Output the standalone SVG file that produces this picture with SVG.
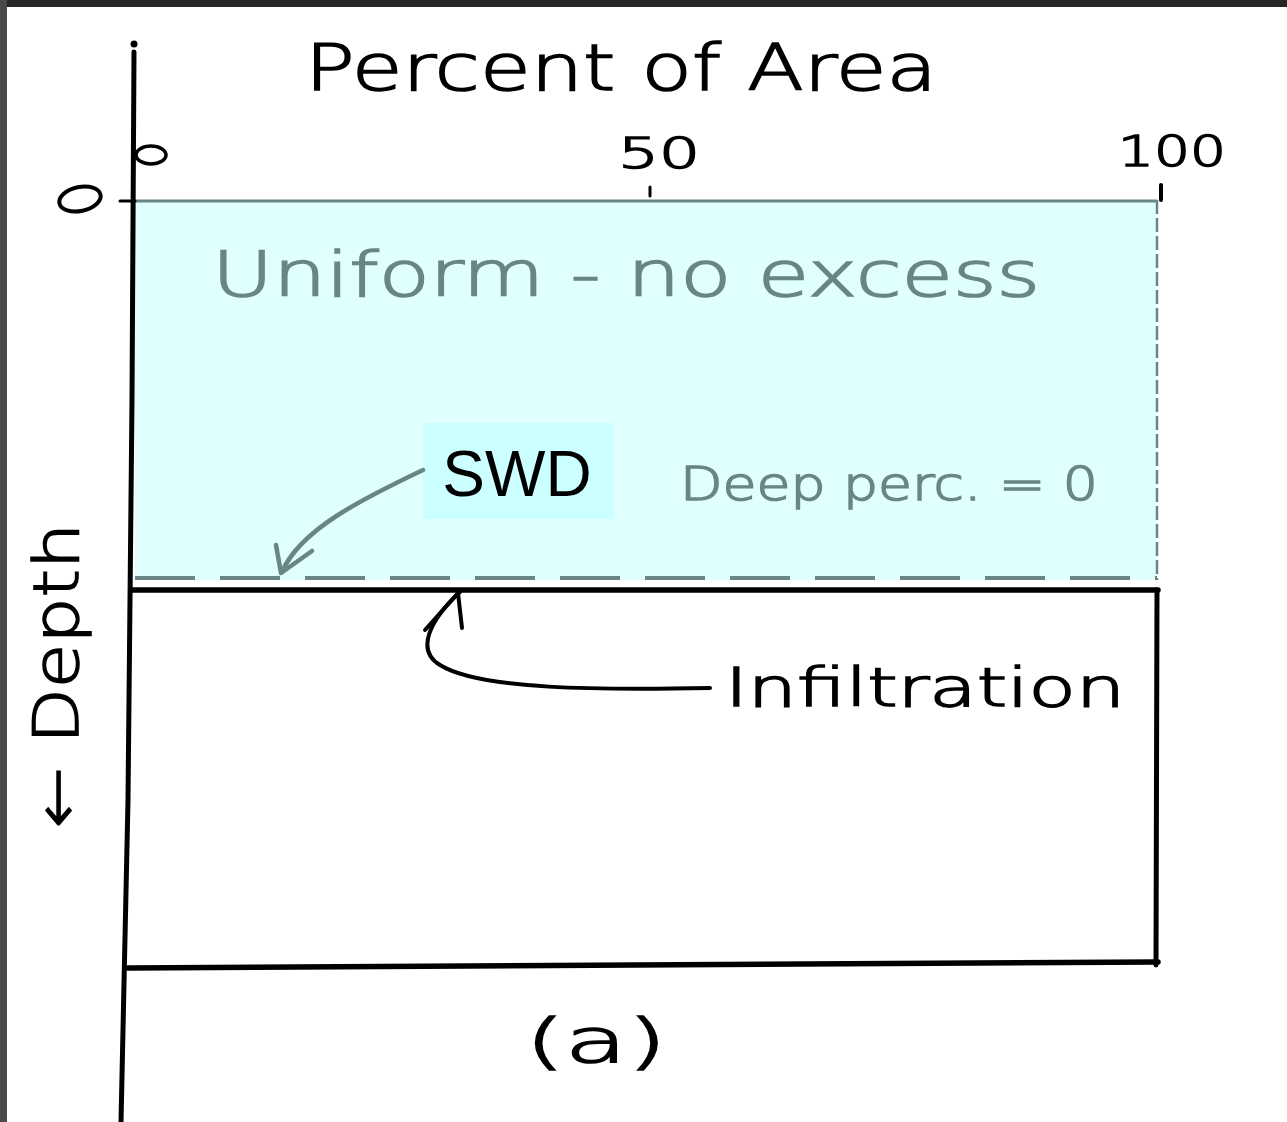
<svg xmlns="http://www.w3.org/2000/svg" width="1287" height="1122" viewBox="0 0 1287 1122">
<defs>
<style>
.blk{fill:#000;stroke:#000;stroke-width:1.6;font-family:"DejaVu Sans","Liberation Sans",sans-serif}
.gry{fill:#6a8585;stroke:#6a8585;stroke-width:1.6;font-family:"DejaVu Sans","Liberation Sans",sans-serif}
.ink{fill:none;stroke:#000;stroke-linecap:round;stroke-linejoin:round}
.gink{fill:none;stroke:#6a8585;stroke-linecap:round;stroke-linejoin:round}
</style>
</defs>
<rect x="0" y="0" width="1287" height="1122" fill="#ffffff"/>
<rect x="0" y="0" width="1287" height="7" fill="#262626"/>
<rect x="0" y="0" width="7" height="1122" fill="#4a4a4a"/>

<g id="area">
<rect x="135" y="200" width="1022" height="380" fill="#e0ffff"/>
<line x1="135" y1="201" x2="1157" y2="201" stroke="#6a8585" stroke-width="3"/>
<line x1="1157" y1="200" x2="1157" y2="580" stroke="#6a8585" stroke-width="2.5" stroke-dasharray="14 4"/>
<line x1="135" y1="578" x2="1157" y2="578" stroke="#6a8585" stroke-width="4" stroke-dasharray="60 25"/>
</g>

<g id="axes">
<circle cx="134" cy="44" r="3.5" fill="#000"/>
<path class="ink" d="M134 52 L132 400 L128 800 L121 1122" stroke-width="5"/>
<line class="ink" x1="120" y1="201" x2="135" y2="201" stroke-width="3"/>
<path class="ink" d="M131 590 L1158 590" stroke-width="5.5"/>
<path class="ink" d="M1157 590 L1156 965" stroke-width="5"/>
<path class="ink" d="M128 968 L1158 962" stroke-width="5.5"/>
<line class="ink" x1="1161" y1="185" x2="1161" y2="200" stroke-width="4"/>
<line class="ink" x1="650" y1="187" x2="650" y2="196" stroke-width="3"/>
<ellipse cx="151" cy="155" rx="15" ry="9" class="ink" stroke-width="3.5"/>
<ellipse cx="80" cy="199" rx="21" ry="12" transform="rotate(-12 80 199)" class="ink" stroke-width="4"/>
</g>

<g id="labels">
<text class="blk" x="305" y="90" font-size="64" textLength="632" lengthAdjust="spacingAndGlyphs" font-weight="200">Percent of Area</text>
<text class="blk" x="618" y="168" font-size="42" textLength="82" lengthAdjust="spacingAndGlyphs" font-weight="200">50</text>
<text class="blk" x="1118" y="166" font-size="42" textLength="108" lengthAdjust="spacingAndGlyphs" font-weight="200">100</text>
<text class="gry" x="212" y="296" font-size="62" textLength="828" lengthAdjust="spacingAndGlyphs" font-weight="200">Uniform - no excess</text>
<text class="gry" x="680" y="500" font-size="46" textLength="418" lengthAdjust="spacingAndGlyphs" font-weight="200">Deep perc. = 0</text>
<text class="blk" x="725" y="706" font-size="54" textLength="400" lengthAdjust="spacingAndGlyphs" font-weight="200">Infiltration</text>
<text class="blk" transform="translate(78 828) rotate(-90)" x="0" y="0" font-size="62" textLength="305" lengthAdjust="spacingAndGlyphs" font-weight="200">← Depth</text>
<text class="blk" x="525" y="1062" font-size="60" textLength="142" lengthAdjust="spacingAndGlyphs" font-weight="200">(a)</text>
</g>

<g id="swd">
<rect x="423" y="423" width="191" height="96" fill="#ccffff"/>
<text x="517" y="496" font-size="64" text-anchor="middle" fill="#000" font-family="Liberation Sans, Arial, sans-serif">SWD</text>
</g>

<g id="connectors">
<path class="gink" d="M423 470 C360 500 300 530 282 572" stroke-width="4.5"/>
<path class="gink" d="M276 545 L281 573 L312 551" stroke-width="4.5"/>
<path class="ink" d="M710 688 C600 690 480 690 440 665 C415 650 430 620 460 592" stroke-width="4"/>
<path class="ink" d="M425 630 L458 593 L462 628" stroke-width="4"/>
</g>
</svg>
